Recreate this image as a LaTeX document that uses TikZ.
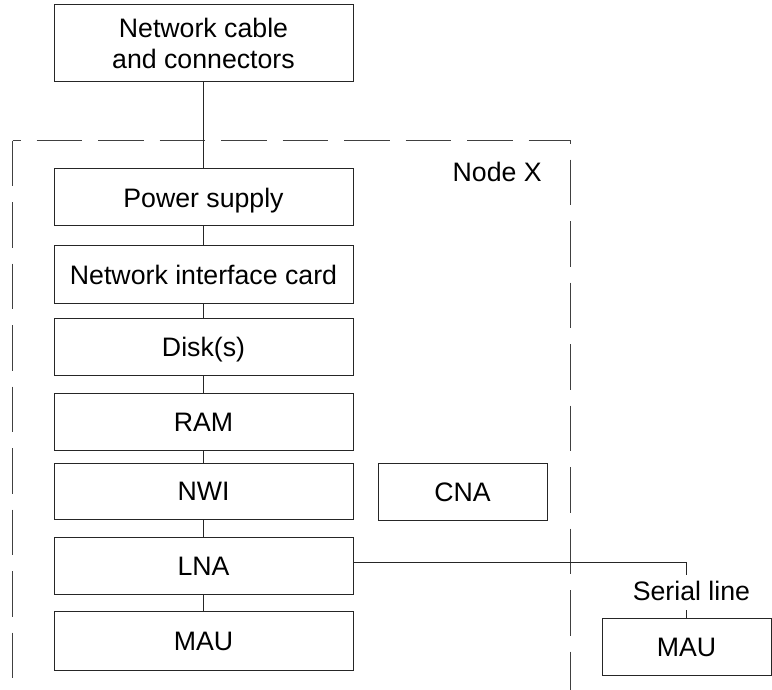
\documentclass[tikz,border=0pt]{standalone}
\usepackage{fontspec}
\setmainfont{Liberation Sans}
\newcommand{\dfont}{\fontsize{26.7}{31}\selectfont}
\begin{document}
\begin{tikzpicture}[x=1pt,y=-1pt,
  boxbase/.style={draw=black!85, line width=1pt, inner sep=0pt, font=\dfont},
  box/.style={boxbase, minimum width=299pt, minimum height=57pt, text height=19.2pt, text depth=0pt},
  smallbox/.style={boxbase, minimum width=169pt, minimum height=57pt, text height=19.2pt, text depth=0pt},
  link/.style={draw=black!85, line width=1pt},
  frame/.style={draw=black!75, line width=1pt, dash pattern=on 45.5pt off 16pt},
  lbl/.style={font=\dfont, inner sep=0pt, anchor=base}]
\useasboundingbox (0,0) rectangle (772,690);
% dashed frame of Node X
\coordinate (ftl) at (12.7,140.7);
\coordinate (ftr) at (570.7,140.7);
\coordinate (fbl) at (12.7,690);
\coordinate (fbr) at (570.7,690);
\draw[frame] (ftl) -- (fbl);
\draw[frame, dash phase=37.5pt] (ftl) -- (ftr);
\draw[frame, dash phase=42.5pt] (ftr) -- (fbr);
\node[lbl] (nodex) at (497.2,181.7) {Node X};
% boxes
\node[boxbase, minimum width=299pt, minimum height=77pt, align=center] (cable) at (203.5,43.5) {Network cable\\and connectors};
\node[box] (ps)   at (203.5,197.5) {Power supply};
\node[box] (nic)  at (203.5,274.5) {Network interface card};
\node[box] (disk) at (203.5,346.5) {Disk(s)};
\node[box] (ram)  at (203.5,421.5) {RAM};
\node[box, minimum height=56pt] (nwi)  at (203.5,491) {NWI};
\node[box] (lna)  at (203.5,565.5) {LNA};
\node[box, minimum height=59pt] (mau)  at (203.5,640.5) {MAU};
\node[smallbox] (cna) at (462.5,491.5) {CNA};
\node[smallbox] (mau2) at (686.5,646.5) {MAU};
% connectors
\draw[link] (cable.south) -- (ps.north);
\draw[link] (ps.south) -- (nic.north);
\draw[link] (nic.south) -- (disk.north);
\draw[link] (disk.south) -- (ram.north);
\draw[link] (ram.south) -- (nwi.north);
\draw[link] (nwi.south) -- (lna.north);
\draw[link] (lna.south) -- (mau.north);
% serial line
\node[lbl] (sl) at (691.4,600.7) {Serial line};
\coordinate (slt) at (686.5,575);
\coordinate (slb) at (686.5,610);
\draw[link] ([yshift=3.5pt]lna.east) -| (slt);
\draw[link] (slb) -- (mau2.north);
\end{tikzpicture}
\end{document}
